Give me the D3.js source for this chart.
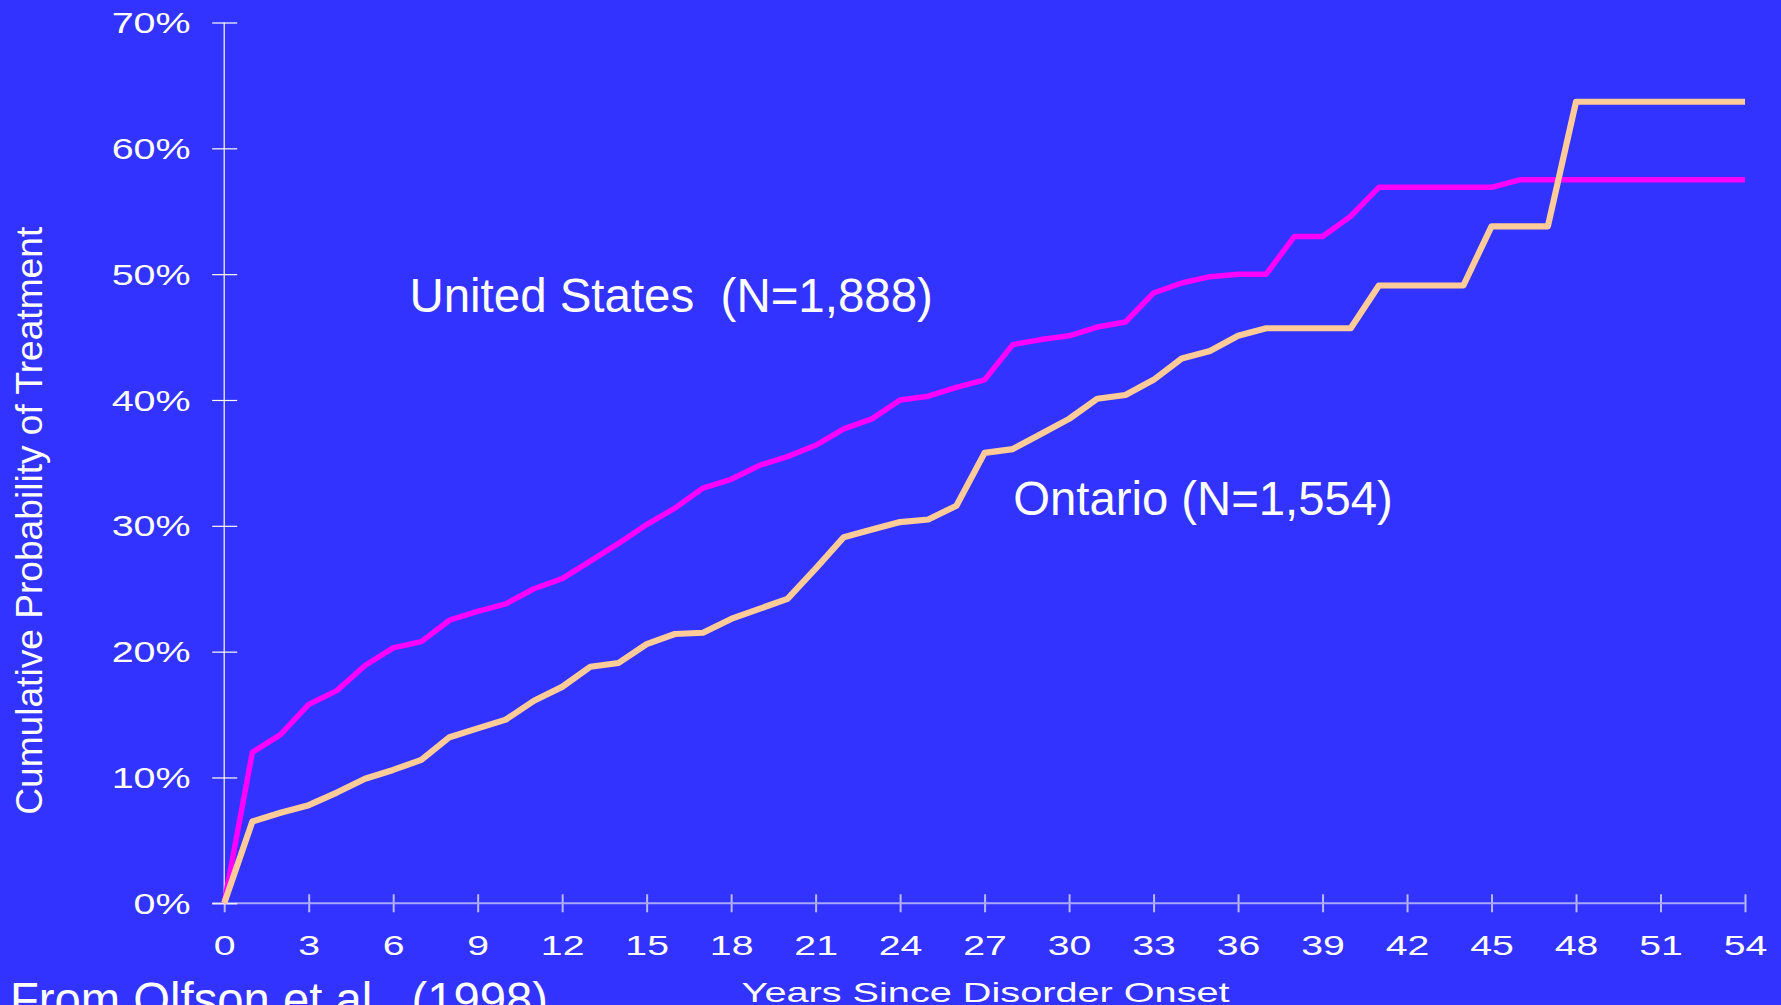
<!DOCTYPE html>
<html>
<head>
<meta charset="utf-8">
<script src="https://cdn.jsdelivr.net/npm/d3@7"></script>
<style>
  html, body { margin: 0; padding: 0; background: #3333FF; overflow: hidden; }
  svg { display: block; }
  text { font-family: Arial, "Liberation Sans", sans-serif; fill: #ffffff; }
</style>
</head>
<body>
<svg id="chart" width="1781" height="1005"></svg>
<script>
// Years since disorder onset
const years = d3.range(0, 55);
// Cumulative probability of treatment (%), United States (N=1,888)
const usValues = [0, 12.0, 13.4, 15.8, 16.9, 18.9, 20.3, 20.8, 22.5, 23.2, 23.8,
  25.0, 25.8, 27.2, 28.6, 30.1, 31.4, 33.0, 33.7, 34.8, 35.5,
  36.4, 37.7, 38.5, 40.0, 40.3, 41.0, 41.6, 44.4, 44.8, 45.1,
  45.8, 46.2, 48.5, 49.3, 49.8, 50.0, 50.0, 53.0, 53.0, 54.6,
  56.9, 56.9, 56.9, 56.9, 56.9, 57.5, 57.5, 57.5, 57.5, 57.5,
  57.5, 57.5, 57.5, 57.5];
// Cumulative probability of treatment (%), Ontario (N=1,554)
const onValues = [0, 6.5, 7.2, 7.8, 8.8, 9.9, 10.6, 11.4, 13.2, 13.9, 14.6,
  16.1, 17.2, 18.8, 19.1, 20.6, 21.4, 21.5, 22.6, 23.4, 24.2,
  26.6, 29.1, 29.7, 30.3, 30.5, 31.6, 35.8, 36.1, 37.3, 38.5,
  40.1, 40.4, 41.6, 43.3, 43.9, 45.1, 45.7, 45.7, 45.7, 45.7,
  49.1, 49.1, 49.1, 49.1, 53.8, 53.8, 53.8, 63.7, 63.7, 63.7,
  63.7, 63.7, 63.7, 63.7];
const xTicks = d3.range(0, 55, 3);
const yTicks = [0, 10, 20, 30, 40, 50, 60, 70];
const seriesNames = ["United States  (N=1,888)", "Ontario (N=1,554)"];
const yTitle = "Cumulative Probability of Treatment";
const xTitle = "Years Since Disorder Onset";
const source = "From Olfson et al., (1998)";

const svg = d3.select("#chart");
svg.append("rect").attr("width", 1781).attr("height", 1005).attr("fill", "#3333FF");

const x = d3.scaleLinear().domain([0, 54]).range([224.2, 1745]);
const y = d3.scaleLinear().domain([0, 70]).range([903.3, 22.5]);

function stretch(sel, factor) {
  sel.each(function() {
    const w = this.getComputedTextLength();
    d3.select(this).attr("textLength", w * factor).attr("lengthAdjust", "spacingAndGlyphs");
  });
}

// X axis
const xAxis = svg.append("g").attr("transform", `translate(0,${y(0)})`)
  .call(d3.axisBottom(x).tickValues(xTicks).tickFormat(d3.format("d")).tickSize(0).tickPadding(0));
xAxis.select(".domain").remove();
xAxis.append("line").attr("x1", x(0) - 12).attr("x2", x(54)).attr("y1", 0).attr("y2", 0)
  .attr("stroke", "#a8a8ff").attr("stroke-width", 2);
xAxis.selectAll(".tick line").remove();
xAxis.selectAll(".tick").append("line").attr("y1", -9).attr("y2", 9)
  .attr("stroke", "#b8b8ff").attr("stroke-width", 2);
xAxis.selectAll(".tick text").attr("y", 52).attr("dy", null)
  .style("font-size", "28px").attr("fill", "#fff");
stretch(xAxis.selectAll(".tick text"), 1.4);

// Y axis
const yAxis = svg.append("g").attr("transform", `translate(${x(0)},0)`)
  .call(d3.axisLeft(y).tickValues(yTicks).tickFormat(d => d + "%").tickSize(0).tickPadding(0));
yAxis.select(".domain").attr("stroke", "#fff").attr("stroke-width", 1.2)
  .attr("d", `M0,${y(70)}V${y(0)}`);
yAxis.selectAll(".tick").append("line").attr("x1", -12).attr("x2", 13)
  .attr("stroke", "#fff").attr("stroke-width", 1.2);
yAxis.selectAll(".tick text").attr("x", -33.6).attr("dy", "0.35em")
  .style("font-size", "29px").attr("fill", "#fff").attr("text-anchor", "end");
stretch(yAxis.selectAll(".tick text"), 1.36);

// Lines
const line = d3.line().x((d, i) => x(years[i])).y(d => y(d));
svg.append("path").datum(usValues).attr("d", line)
  .attr("fill", "none").attr("stroke", "#FF00FF").attr("stroke-width", 5.5)
  .attr("stroke-linejoin", "round");
svg.append("path").datum(onValues).attr("d", line)
  .attr("fill", "none").attr("stroke", "#FFCC99").attr("stroke-width", 6.2)
  .attr("stroke-linejoin", "round");

// Series labels
svg.append("text").attr("x", 409.4).attr("y", 311.7).style("font-size", "48px")
  .attr("textLength", 523.5).attr("lengthAdjust", "spacingAndGlyphs")
  .style("white-space", "pre").text(seriesNames[0]);
svg.append("text").attr("x", 1013.3).attr("y", 515).style("font-size", "48px")
  .attr("textLength", 379.4).attr("lengthAdjust", "spacingAndGlyphs")
  .text(seriesNames[1]);

// Axis titles
svg.append("text").attr("transform", "translate(42,520.8) rotate(-90)")
  .attr("text-anchor", "middle").style("font-size", "37px")
  .attr("textLength", 588).attr("lengthAdjust", "spacingAndGlyphs").text(yTitle);
svg.append("text").attr("x", 985.6).attr("y", 1001.7).attr("text-anchor", "middle")
  .style("font-size", "28px").attr("textLength", 488).attr("lengthAdjust", "spacingAndGlyphs")
  .text(xTitle);

// Source
svg.append("text").attr("x", 10).attr("y", 1016).style("font-size", "48px")
  .attr("textLength", 538).attr("lengthAdjust", "spacingAndGlyphs").text(source);
</script>
</body>
</html>
